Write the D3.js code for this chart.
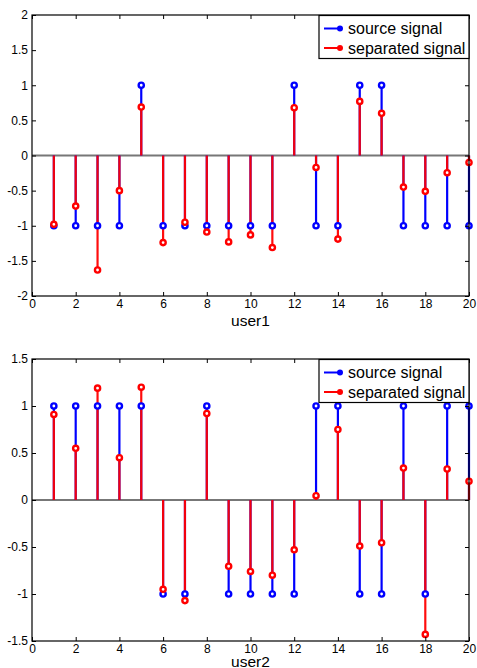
<!DOCTYPE html>
<html><head><meta charset="utf-8">
<script src="https://cdn.jsdelivr.net/npm/d3@7/dist/d3.min.js"></script>
<style>body{margin:0;background:#fff}svg{display:block}text{font-family:"Liberation Sans",Arial,sans-serif}</style>
</head><body>
<svg id="c" width="477" height="668"></svg>
<script>
const xValues = d3.range(1, 21);
const user1Source = [-1,-1,-1,-1,1,-1,-1,-1,-1,-1,-1,1,-1,-1,1,1,-1,-1,-1,-1];
const user1Separated = [-0.98,-0.72,-1.63,-0.5,0.69,-1.24,-0.95,-1.09,-1.23,-1.13,-1.31,0.68,-0.17,-1.19,0.77,0.6,-0.45,-0.51,-0.245,-0.1];
const user2Source = [1,1,1,1,1,-1,-1,1,-1,-1,-1,-1,1,1,-1,-1,1,-1,1,1];
const user2Separated = [0.91,0.55,1.19,0.45,1.2,-0.95,-1.07,0.92,-0.705,-0.76,-0.8,-0.53,0.046,0.75,-0.49,-0.455,0.34,-1.43,0.33,0.2];
const xTicks = [0,2,4,6,8,10,12,14,16,18,20];
const user1YTicks = [-2,-1.5,-1,-0.5,0,0.5,1,1.5,2];
const user2YTicks = [-1.5,-1,-0.5,0,0.5,1,1.5];
const legendLabels = ["source signal","separated signal"];
const xLabels = ["user1","user2"];

const svg = d3.select("#c");
const BLUE = "#0000ff", RED = "#ff0000";

function panel(cfg) {
  const {top, bottom, left, right, ydom, yticks, src, sep, label, labelOffset} = cfg;
  const x = d3.scaleLinear().domain([0,20]).range([left,right]);
  const y = d3.scaleLinear().domain(ydom).range([bottom,top]);
  const g = svg.append("g");
  g.append("rect").attr("x",left).attr("y",top).attr("width",right-left).attr("height",bottom-top).attr("fill","#fff");
  g.append("line").attr("x1",left).attr("x2",right).attr("y1",y(0)).attr("y2",y(0))
    .attr("stroke","#777").attr("stroke-width",2);
  const series = [{v:src,c:BLUE,o:1},{v:sep,c:RED,o:0.95}];
  series.forEach(s=>{
    g.append("g").selectAll("line").data(xValues).join("line")
      .attr("x1",d=>x(d)).attr("x2",d=>x(d))
      .attr("y1",y(0)).attr("y2",(d,i)=>y(s.v[i]))
      .attr("stroke",s.c).attr("stroke-width",2.2).attr("stroke-opacity",s.o);
  });
  series.forEach(s=>{
    g.append("g").selectAll("circle").data(xValues).join("circle")
      .attr("cx",d=>x(d)).attr("cy",(d,i)=>y(s.v[i])).attr("r",2.6)
      .attr("fill","#fff").attr("stroke",s.c).attr("stroke-width",2.4);
  });
  const fmt = d=>String(d);
  const axB = g.append("g").attr("transform",`translate(0,${bottom})`)
    .call(d3.axisBottom(x).tickValues(xTicks).tickFormat(fmt).tickSizeInner(-4).tickSizeOuter(0).tickPadding(6));
  const axT = g.append("g").attr("transform",`translate(0,${top})`)
    .call(d3.axisTop(x).tickValues(xTicks).tickFormat("").tickSizeInner(-4).tickSizeOuter(0));
  const axL = g.append("g").attr("transform",`translate(${left},0)`)
    .call(d3.axisLeft(y).tickValues(yticks).tickFormat(fmt).tickSizeInner(-4).tickSizeOuter(0).tickPadding(4));
  const axR = g.append("g").attr("transform",`translate(${right},0)`)
    .call(d3.axisRight(y).tickValues(yticks).tickFormat("").tickSizeInner(-4).tickSizeOuter(0));
  [axB,axT,axL,axR].forEach(a=>{
    a.select(".domain").remove();
    a.selectAll(".tick line").attr("stroke","#000");
    a.selectAll("text").attr("fill","#000").style("font-size","12px").style("font-family",'"Liberation Sans",Arial,sans-serif');
  });
  axB.selectAll("text").attr("dy","0.71em").attr("y",3);
  g.append("rect").attr("x",left).attr("y",top).attr("width",right-left).attr("height",bottom-top)
    .attr("fill","none").attr("stroke","#000").attr("stroke-width",1.2);
  g.append("text").attr("x",(left+right)/2).attr("y",bottom+labelOffset).attr("text-anchor","middle")
    .style("font-size","15.5px").attr("fill","#000").text(label);
  const lw = 150, lh = 43, lx = right-lw, ly = top+0.5;
  const lg = g.append("g");
  lg.append("rect").attr("x",lx).attr("y",ly).attr("width",lw).attr("height",lh)
    .attr("fill","#fff").attr("stroke","#000").attr("stroke-width",1.2);
  [BLUE,RED].forEach((c,i)=>{
    const yy = ly + 13 + i*19.5;
    lg.append("line").attr("x1",lx+5).attr("x2",lx+22).attr("y1",yy).attr("y2",yy).attr("stroke",c).attr("stroke-width",2);
    lg.append("circle").attr("cx",lx+21).attr("cy",yy).attr("r",3).attr("fill",c);
    lg.append("text").attr("x",lx+29).attr("y",yy).attr("dy","0.35em").style("font-size","16px").attr("fill","#000").text(legendLabels[i]);
  });
}

panel({top:15, bottom:296, left:32, right:469, ydom:[-2,2], yticks:user1YTicks, src:user1Source, sep:user1Separated, label:xLabels[0], labelOffset:30});
panel({top:359, bottom:641, left:32, right:469, ydom:[-1.5,1.5], yticks:user2YTicks, src:user2Source, sep:user2Separated, label:xLabels[1], labelOffset:25.5});
</script>
</body></html>
